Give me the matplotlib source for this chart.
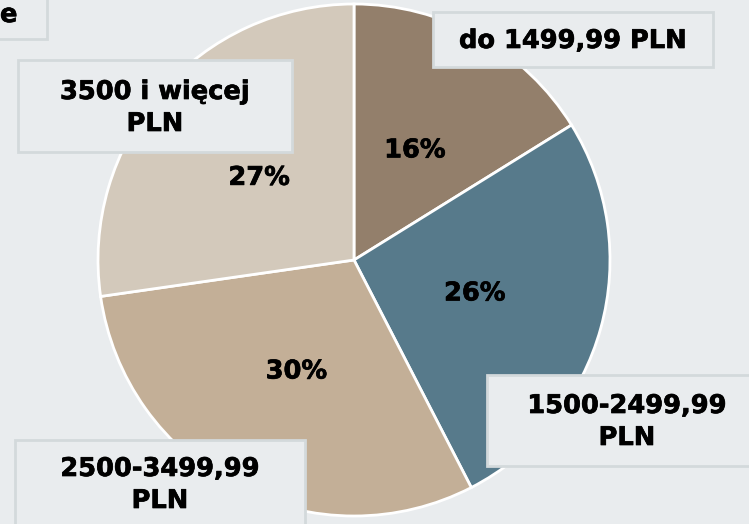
import matplotlib
matplotlib.use("Agg")
import matplotlib.pyplot as plt
import matplotlib.patheffects as pe
from matplotlib.patches import Rectangle

# dane
kategorie = ['do 1499,99 PLN', '1500-2499,99\nPLN', '2500-3499,99\nPLN', '3500 i więcej\nPLN']
udzialy = [16, 26, 30, 27]
kolory = ['#937F6B', '#577A8B', '#C3AF97', '#D3C9BB']

TLO = '#E9ECEE'
W, H = 749, 524
gruby = [pe.withStroke(linewidth=0.5, foreground='black')]

fig = plt.figure(figsize=(W / 100, H / 100), dpi=100, facecolor=TLO)
ax = fig.add_axes([0, 0, 1, 1])
ax.set_facecolor(TLO)

etykiety_pct = iter(udzialy)
wedges, _, autotexts = ax.pie(
    udzialy, colors=kolory, startangle=90, counterclock=False,
    center=(354, H - 260), radius=256, frame=True,
    autopct=lambda p: f'{next(etykiety_pct)}%', pctdistance=0.49,
    wedgeprops=dict(edgecolor='white', linewidth=2),
    textprops=dict(fontsize=18.5, fontweight='bold', color='black'))
for t in autotexts:
    t.set_path_effects(gruby)
ax.set_xlim(0, W)
ax.set_ylim(0, H)
ax.set_aspect('equal')
ax.axis('off')

# ramki z etykietami (x0, y0, x1, y1 w pikselach od gory, srodek tekstu)
ramki = [
    (433, 12, 713, 67, 573, 41),
    (487, 375, 760, 466, 627, 422),
    (15, 440, 305, 540, 160, 485),
    (18, 60, 292, 152, 155, 108),
]
for (x0, y0, x1, y1, tx, ty), txt in zip(ramki, kategorie):
    ax.add_patch(Rectangle((x0, H - y1), x1 - x0, y1 - y0, facecolor=TLO,
                           edgecolor='#D3D9DB', linewidth=2, zorder=3))
    ax.text(tx, H - ty, txt, ha='center', va='center', fontsize=18.5,
            fontweight='bold', linespacing=1.3, zorder=4, path_effects=gruby)

# fragment ramki tytulu w lewym gornym rogu
ax.add_patch(Rectangle((-20, H - 39), 67, 60, facecolor=TLO,
                       edgecolor='#D3D9DB', linewidth=2, zorder=3))
ax.text(0, H - 15, 'e', ha='left', va='center', fontsize=18.5,
        fontweight='bold', zorder=4, path_effects=gruby)

fig.savefig('out.png', dpi=100, facecolor=TLO)
